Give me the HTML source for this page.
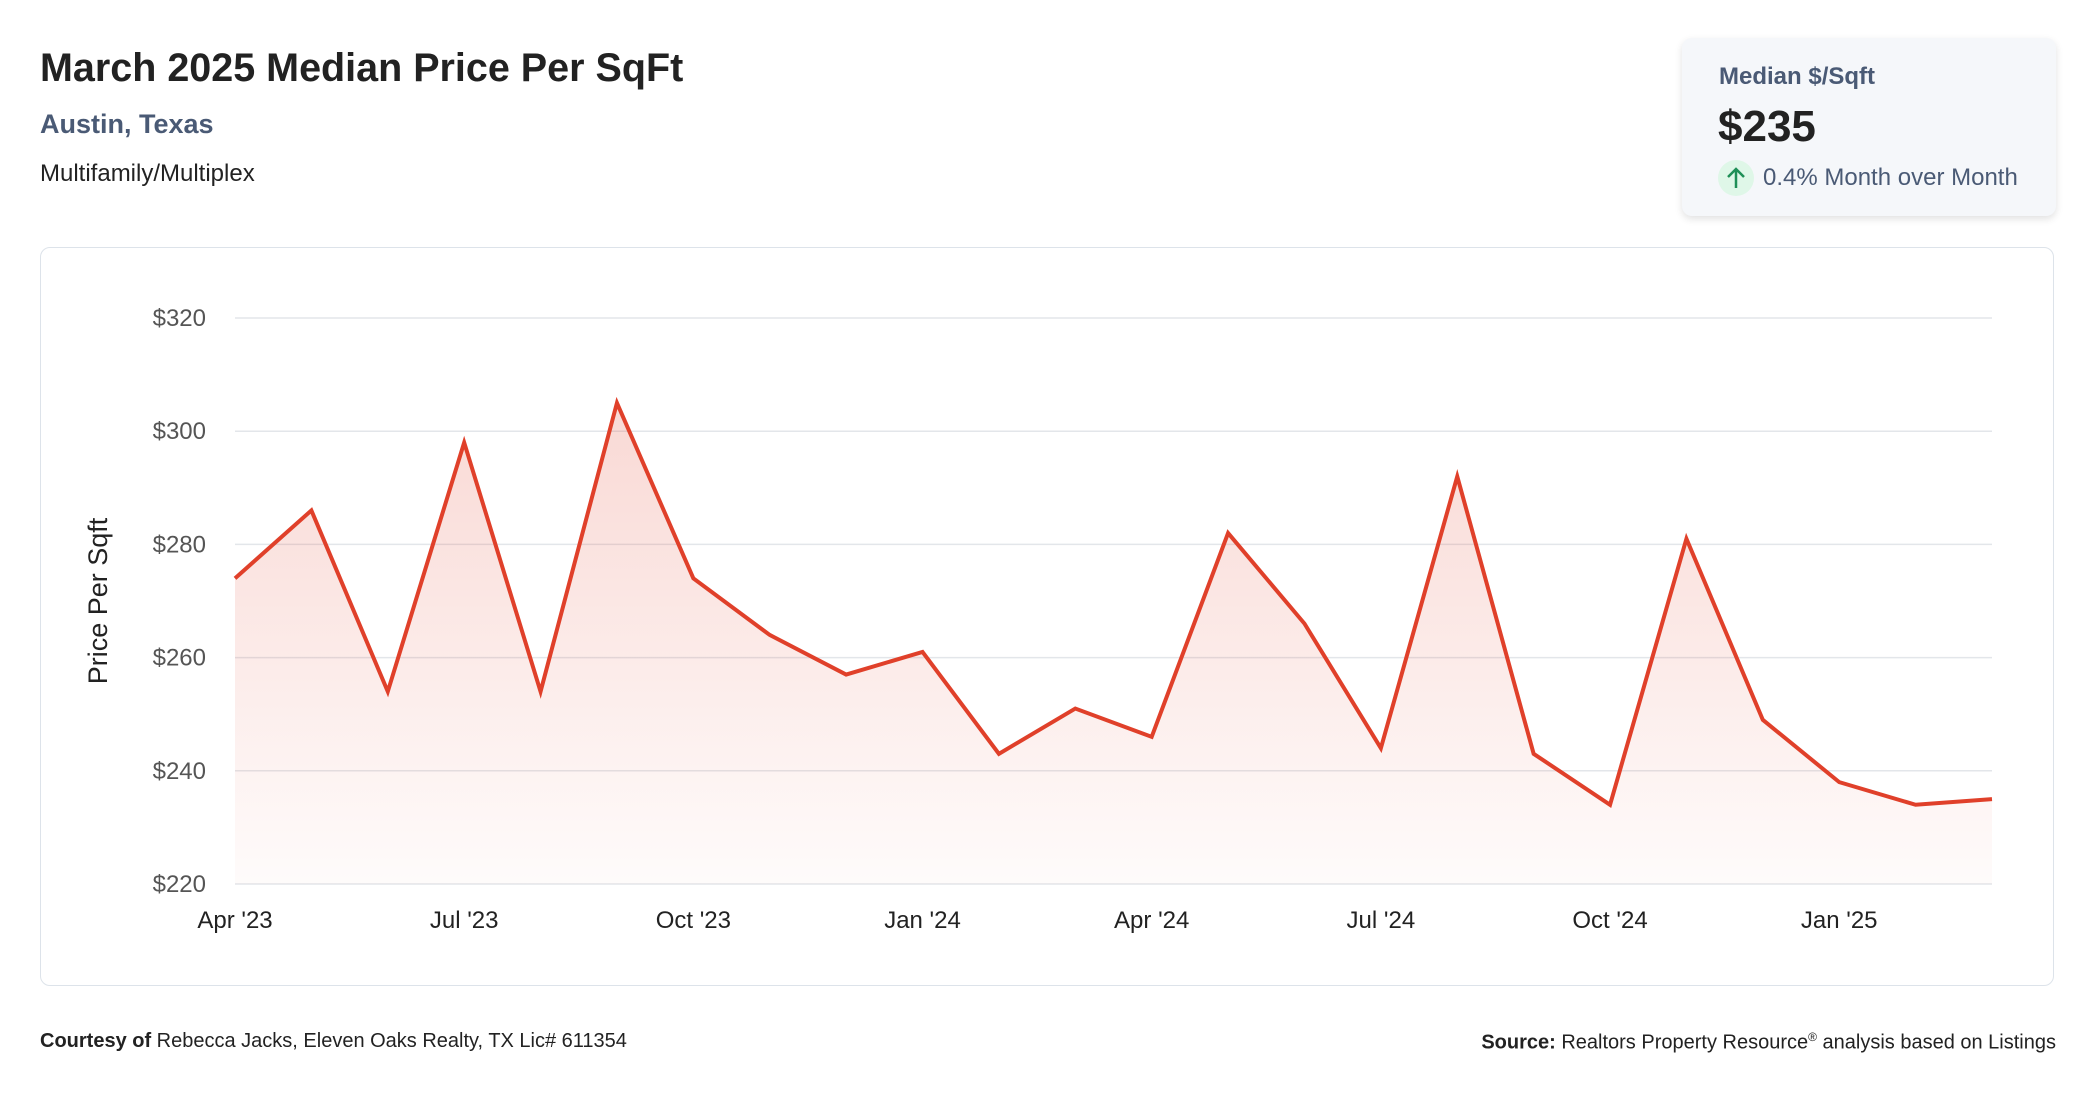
<!DOCTYPE html>
<html><head><meta charset="utf-8"><style>
body{margin:0;width:2096px;height:1100px;background:#fff;font-family:"Liberation Sans",Arial,sans-serif;position:relative;overflow:hidden}
.abs{position:absolute;white-space:nowrap}
</style></head><body>
<div class="abs" style="left:40px;top:46px;font-size:39.5px;font-weight:bold;color:#222">March 2025 Median Price Per SqFt</div>
<div class="abs" style="left:40px;top:109px;font-size:27px;font-weight:bold;color:#4a5a75">Austin, Texas</div>
<div class="abs" style="left:40px;top:160px;font-size:24px;color:#222">Multifamily/Multiplex</div>
<div class="abs" style="left:1682px;top:38px;width:374px;height:178px;background:#f5f7fa;border-radius:10px;box-shadow:0 3px 8px rgba(0,0,0,0.12)">
 <div class="abs" style="left:37px;top:25px;font-size:24px;font-weight:bold;color:#4a5a75">Median $/Sqft</div>
 <div class="abs" style="left:36px;top:64px;font-size:44px;font-weight:bold;color:#222">$235</div>
 <div class="abs" style="left:36px;top:122px;width:36px;height:36px;border-radius:50%;background:#dff7e8">
  <svg width="36" height="36"><path d="M18 28 V9 M10 17 L18 9 L26 17" stroke="#1f8f57" stroke-width="2.5" fill="none"/></svg></div>
 <div class="abs" style="left:81px;top:126px;font-size:24px;color:#4a5a75">0.4% Month over Month</div>
</div>
<div class="abs" style="left:40px;top:247px;width:2012px;height:737px;border:1.5px solid #dde3ea;border-radius:10px"></div>
<svg class="abs" id="chart" style="left:0;top:0" width="2096" height="1000">
<defs><linearGradient id="g" x1="0" y1="0" x2="0" y2="1"><stop offset="0" stop-color="#e0402a" stop-opacity="0.2"/><stop offset="1" stop-color="#e0402a" stop-opacity="0.02"/></linearGradient></defs>
<text transform="translate(107,601) rotate(-90)" text-anchor="middle" font-size="27" fill="#222" font-family="Liberation Sans,sans-serif">Price Per Sqft</text>
</svg>
<div class="abs" style="left:40px;top:1030px;font-size:20px;color:#222"><b>Courtesy of</b> Rebecca Jacks, Eleven Oaks Realty, TX Lic# 611354</div>
<div class="abs" style="right:40px;top:1030px;font-size:20px;color:#222"><b>Source:</b> Realtors Property Resource<sup style="font-size:12px">®</sup> analysis based on Listings</div>
<script>
const months=["Apr '23","May '23","Jun '23","Jul '23","Aug '23","Sep '23","Oct '23","Nov '23","Dec '23","Jan '24","Feb '24","Mar '24","Apr '24","May '24","Jun '24","Jul '24","Aug '24","Sep '24","Oct '24","Nov '24","Dec '24","Jan '25","Feb '25","Mar '25"];
const values=[274,286,254,298,254,305,274,264,257,261,243,251,246,282,266,244,292,243,234,281,249,238,234,235];
const yTicks=[220,240,260,280,300,320];
const xTickLabels=["Apr '23","Jul '23","Oct '23","Jan '24","Apr '24","Jul '24","Oct '24","Jan '25"];
const NS="http://www.w3.org/2000/svg",svg=document.getElementById('chart');
const x0=235,x1=1992,yTop=318,yBot=884,vMin=220,vMax=320;
const X=i=>x0+(x1-x0)*i/(months.length-1);
const Y=v=>yBot-(v-vMin)/(vMax-vMin)*(yBot-yTop);
function mk(t,a){const e=document.createElementNS(NS,t);for(const k in a)e.setAttribute(k,a[k]);svg.appendChild(e);return e;}
yTicks.forEach(v=>{
 const l=mk('line',{x1:x0,x2:x1,y1:Y(v),y2:Y(v),stroke:'#e3e6ea','stroke-width':1.5});
 
 
 const t=mk('text',{x:206,y:Y(v)+8,'text-anchor':'end','font-size':24,fill:'#555','font-family':'Liberation Sans,sans-serif'});
 t.textContent='$'+v;
 
 
});
xTickLabels.forEach(s=>{
 const i=months.indexOf(s);
 const t=mk('text',{x:X(i),y:928,'text-anchor':'middle','font-size':24,fill:'#222','font-family':'Liberation Sans,sans-serif'});
 t.textContent=s;
 
 
});
const pts=values.map((v,i)=>X(i)+','+Y(v)).join(' L');
const a=mk('path',{d:'M'+X(0)+','+yBot+' L'+pts+' L'+X(values.length-1)+','+yBot+' Z',fill:'url(#g)'});


const p=mk('path',{d:'M'+pts,fill:'none',stroke:'#e0402a','stroke-width':4,'stroke-linejoin':'miter'});


</script>
</body></html>
